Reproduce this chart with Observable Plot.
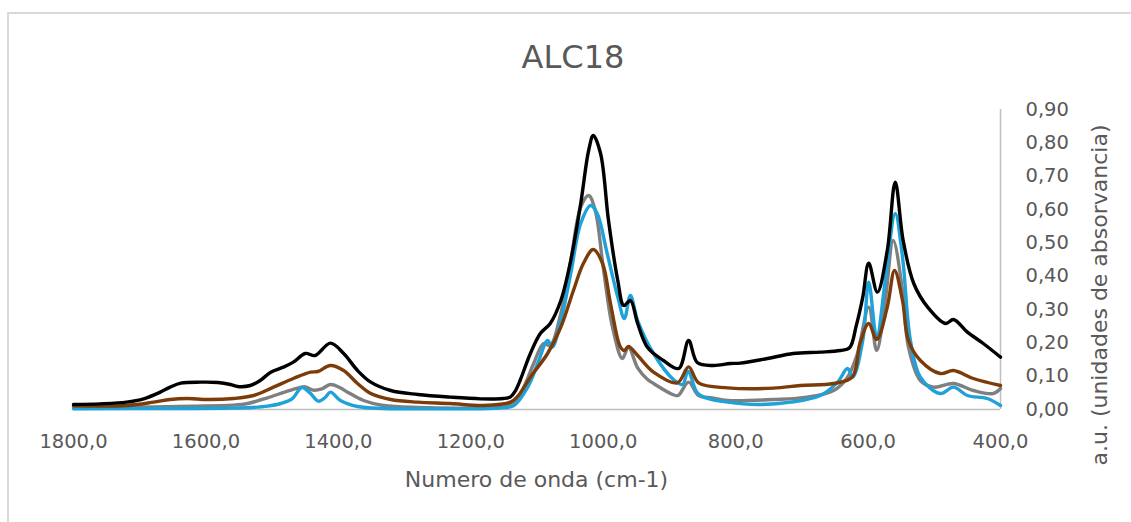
<!DOCTYPE html>
<html>
<head>
<meta charset="utf-8">
<script src="https://cdn.jsdelivr.net/npm/d3@7"></script>
<script src="https://cdn.jsdelivr.net/npm/@observablehq/plot@0.6"></script>
<style>
  body { margin: 0; background: #fff; }
  #chart { position: relative; width: 1131px; height: 522px; overflow: hidden;
           font-family: "DejaVu Sans", sans-serif; color: #595959; }
  #frame { position: absolute; left: 7px; top: 12px; width: 1300px; height: 700px;
           border-top: 2px solid #d9d9d9; border-left: 2px solid #d9d9d9; }
  #title { position: absolute; left: 0; top: 41px; width: 1146px; text-align: center;
           font-size: 32px; line-height: 32px; }
  #xtitle { position: absolute; left: 0; top: 469px; width: 1073px; text-align: center;
            font-size: 22px; line-height: 22px; }
  #ytitle { position: absolute; left: 1100px; top: 295px; font-size: 22px; line-height: 22px;
            white-space: nowrap; transform: translate(-50%, -50%) rotate(-90deg); }
  #plot { position: absolute; left: 0; top: 0; }
</style>
</head>
<body>
<div id="chart">
  <div id="frame"></div>
  <div id="plot"></div>
  <div id="title">ALC18</div>
  <div id="xtitle">Numero de onda (cm-1)</div>
  <div id="ytitle">a.u. (unidades de absorvancia)</div>
</div>
<script>
// Wavenumber (cm-1) / absorbance pairs for each sample spectrum
const s1Wn  = [1800,1760,1720,1694,1669,1654,1638,1608,1582,1563,1552,1533,1518,1502,1483,1468,1450,1435,1412,1392,1371,1351,1321,1280,1231,1185,1151,1140,1133,1125,1110,1095,1080,1064,1049,1034,1022,1015,1004,992,978,969,959,948,933,909,886,871,858,834,808,793,752,713,672,642,628,618,608,599,586,571,559,547,531,510,483,471,450,426,400];
const s1Abs = [0.015,0.017,0.022,0.032,0.052,0.067,0.079,0.082,0.081,0.075,0.069,0.072,0.087,0.112,0.127,0.142,0.168,0.162,0.199,0.168,0.117,0.082,0.057,0.045,0.037,0.032,0.033,0.038,0.055,0.090,0.168,0.228,0.258,0.327,0.447,0.618,0.777,0.822,0.768,0.567,0.387,0.312,0.327,0.258,0.186,0.147,0.123,0.207,0.141,0.132,0.138,0.139,0.153,0.168,0.172,0.177,0.185,0.250,0.337,0.439,0.352,0.477,0.682,0.507,0.378,0.307,0.258,0.270,0.232,0.198,0.157];

const s2Wn  = [1800,1700,1620,1560,1537,1507,1480,1460,1450,1438,1425,1412,1398,1386,1362,1332,1280,1185,1150,1135,1120,1105,1090,1080,1064,1049,1034,1022,1012,1000,986,971,962,948,933,924,895,887,871,856,835,812,743,692,652,631,616,599,587,574,562,548,539,521,501,471,441,411,400];
const s2Abs = [0.006,0.007,0.010,0.013,0.018,0.035,0.053,0.065,0.068,0.058,0.062,0.075,0.066,0.052,0.027,0.012,0.006,0.005,0.008,0.022,0.067,0.138,0.198,0.192,0.288,0.447,0.607,0.642,0.597,0.427,0.247,0.153,0.187,0.125,0.090,0.078,0.045,0.042,0.082,0.042,0.035,0.027,0.030,0.037,0.057,0.097,0.168,0.307,0.177,0.327,0.507,0.357,0.187,0.087,0.067,0.078,0.057,0.048,0.063];

const s3Wn  = [1800,1650,1560,1530,1507,1487,1470,1455,1443,1430,1420,1412,1397,1371,1332,1250,1160,1135,1114,1099,1084,1077,1064,1049,1034,1019,1009,994,978,968,959,948,924,894,880,872,858,845,812,767,717,672,646,631,623,608,599,587,574,559,548,536,521,491,471,450,420,400];
const s3Abs = [0.002,0.003,0.004,0.006,0.010,0.018,0.032,0.066,0.050,0.025,0.036,0.052,0.027,0.009,0.003,0.002,0.004,0.012,0.067,0.138,0.207,0.187,0.267,0.408,0.558,0.612,0.588,0.468,0.337,0.273,0.342,0.267,0.168,0.090,0.075,0.115,0.050,0.035,0.022,0.015,0.022,0.042,0.082,0.123,0.097,0.207,0.382,0.217,0.387,0.588,0.457,0.207,0.097,0.048,0.067,0.042,0.033,0.012];

const s4Wn  = [1800,1718,1679,1654,1628,1598,1558,1528,1498,1468,1442,1431,1412,1392,1371,1351,1321,1280,1231,1181,1140,1128,1110,1084,1064,1045,1030,1015,1001,989,974,968,962,948,924,888,871,856,812,743,702,652,624,612,599,587,571,560,548,539,521,491,471,441,400];
const s4Abs = [0.011,0.012,0.022,0.030,0.033,0.030,0.033,0.042,0.067,0.093,0.112,0.114,0.132,0.117,0.078,0.048,0.030,0.022,0.018,0.012,0.022,0.042,0.097,0.168,0.247,0.357,0.438,0.480,0.438,0.318,0.187,0.177,0.189,0.162,0.112,0.080,0.128,0.080,0.065,0.064,0.072,0.078,0.097,0.200,0.258,0.210,0.307,0.417,0.327,0.207,0.147,0.108,0.117,0.093,0.072];

// Drawing order (bottom to top) and line colours
const seriesNames  = ["S2", "S3", "S4", "S1"];
const seriesColors = ["#7f7f7f", "#1ea2d9", "#7b3c0a", "#000000"];
const seriesData   = {
  S1: [s1Wn, s1Abs],
  S2: [s2Wn, s2Abs],
  S3: [s3Wn, s3Abs],
  S4: [s4Wn, s4Abs]
};

const xTicks = [1800, 1600, 1400, 1200, 1000, 800, 600, 400];
const yTicks = [0, 0.1, 0.2, 0.3, 0.4, 0.5, 0.6, 0.7, 0.8, 0.9];

const rows = seriesNames.flatMap(name => {
  const [wn, abs] = seriesData[name];
  return wn.map((w, i) => ({series: name, wn: w, abs: abs[i]}));
});

const comma = (v, digits) => v.toFixed(digits).replace(".", ",");

const plot = Plot.plot({
  width: 1131,
  height: 522,
  marginLeft: 73,
  marginRight: 131,
  marginTop: 109,
  marginBottom: 113,
  style: {fontFamily: "DejaVu Sans, sans-serif", fontSize: "19.5px", color: "#595959", background: "transparent"},
  x: {domain: [1800, 400]},
  y: {domain: [0, 0.9]},
  color: {type: "categorical", domain: seriesNames, range: seriesColors},
  marks: [
    Plot.ruleY([0], {stroke: "#bfbfbf", strokeWidth: 1.5}),
    Plot.ruleX([400], {y1: 0, y2: 0.9, stroke: "#bfbfbf", strokeWidth: 1.5}),
    Plot.axisX({ticks: xTicks, tickFormat: d => comma(d, 1), tickSize: 0, tickPadding: 25, label: null, fill: "#595959"}),
    Plot.axisY({anchor: "right", ticks: yTicks, tickFormat: d => comma(d, 2), tickSize: 0, tickPadding: 25, label: null, fill: "#595959"}),
    Plot.line(rows, {x: "wn", y: "abs", z: "series", stroke: "series", strokeWidth: 3.4, strokeLinejoin: "round", curve: "catmull-rom"})
  ]
});

document.getElementById("plot").appendChild(plot);
</script>
</body>
</html>
